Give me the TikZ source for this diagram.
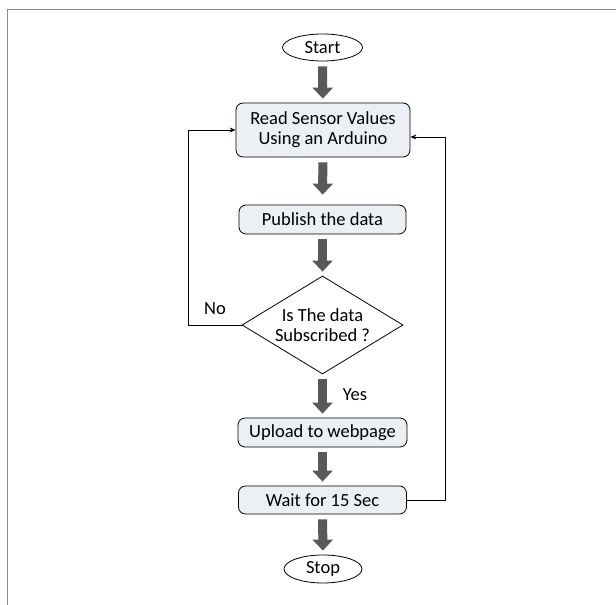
\documentclass[tikz,border=0pt]{standalone}
\usepackage{fontspec}
\setmainfont{Carlito}
\usetikzlibrary{shapes.geometric, arrows.meta}
\definecolor{boxfill}{RGB}{236,239,243}
\definecolor{arrowgray}{RGB}{89,89,89}
\definecolor{framegray}{RGB}{140,140,140}

\tikzset{
  term/.style={draw, thick, ellipse, inner sep=0pt, minimum width=80pt, minimum height=27pt},
  proc/.style={draw, thick, fill=boxfill, rounded corners=7pt, inner sep=0pt, align=center},
  decision/.style={draw, thick, diamond, inner sep=0pt, aspect=1.64, minimum width=161pt, minimum height=98pt, align=center},
  bigarrow/.style={draw=arrowgray, line width=9pt, -{Triangle[length=11pt, width=20pt]}, shorten <=5pt, shorten >=4pt},
  loopline/.style={draw, thick, -{Stealth[length=6pt, width=5pt]}}
}

\begin{document}
\begin{tikzpicture}[x=1pt, y=1pt, font=\fontsize{18.5}{20}\selectfont]
  \useasboundingbox (0,0) rectangle (616,605);

  % frame
  \draw[framegray, line width=1.5pt] (7.5,0) -- (7.5,595.5) -- (616,595.5);

  % nodes
  \node[term] (start) at (322.5,557.5) {Start};
  \node[proc, minimum width=174pt, minimum height=54pt] (read) at (323,475) {Read Sensor Values\\Using an Arduino};
  \node[proc, minimum width=167pt, minimum height=29pt] (publish) at (322.5,385.5) {Publish the data};
  \node[decision] (check) at (322.5,280) {Is The data\\Subscribed ?};
  \node[proc, minimum width=169pt, minimum height=29pt] (upload) at (322.5,172.5) {Upload to webpage};
  \node[proc, minimum width=168pt, minimum height=28pt] (wait) at (322.5,105) {Wait for 15 Sec};
  \node[term, minimum width=78pt, minimum height=28pt] (stop) at (323,36) {Stop};

  % flow
  \draw[bigarrow] (start) -- (read);
  \draw[bigarrow, shorten >=10pt] (read) -- (publish);
  \draw[bigarrow] (publish) -- (check);
  \draw[bigarrow] (check) -- (upload);
  \draw[bigarrow] (upload) -- (wait);
  \draw[bigarrow] (wait) -- (stop);

  % loops
  \coordinate (noturn) at (188,280);
  \coordinate (backturn) at (445,105);
  \draw[loopline] (check.west) -- (noturn) |- (read.west);
  \draw[loopline] (wait.east) -- (backturn) |- ([yshift=-7pt]read.east);

  \node (no) at (215,296) {No};
  \node (yes) at (355,210) {Yes};
\end{tikzpicture}
\end{document}
